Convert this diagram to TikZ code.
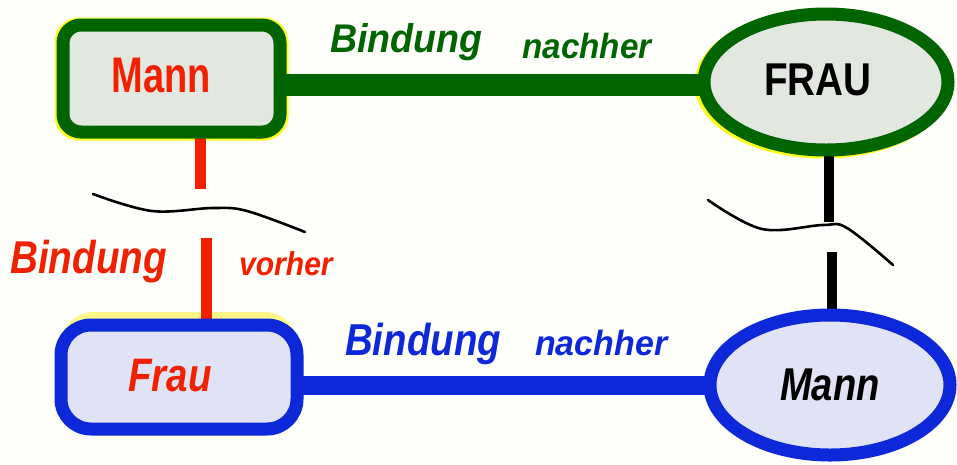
\documentclass[tikz,border=0pt]{standalone}
\usepackage{fontspec}
\setmainfont{Liberation Sans}
\usetikzlibrary{shapes.geometric}
\pgfdeclarelayer{back}
\pgfsetlayers{back,main}
\definecolor{gr}{HTML}{006400}
\definecolor{rd}{HTML}{F02000}
\definecolor{bl}{HTML}{0C28D8}
\definecolor{grfill}{HTML}{E2E8E0}
\definecolor{blfill}{HTML}{E0E3F6}
\definecolor{yl}{HTML}{FFFF20}
\definecolor{ylpale}{HTML}{FFF68A}
\definecolor{bgc}{HTML}{FEFEFA}
\newcommand\cnd[2]{\scalebox{#1}[1]{#2}}
\begin{document}
\begin{tikzpicture}[x=1pt,y=-1pt,
  box/.style={rectangle, line width=13pt, inner sep=0pt},
  oval/.style={ellipse, line width=13pt, inner sep=0pt},
  lbl/.style={inner sep=0pt, anchor=base west},
  bigbold/.style={font=\fontsize{#1}{#1}\selectfont\bfseries},
  bigbi/.style={font=\fontsize{#1}{#1}\selectfont\bfseries\itshape}]
\useasboundingbox (0,0) rectangle (957,464);

% nodes
\node[box, draw=gr, fill=grfill, rounded corners=18pt, minimum width=217pt,
      minimum height=107pt, bigbold=50, text=rd] (mann1) at (171.5,78.5)
      {\raisebox{7pt}{\cnd{0.76}{Mann}}\kern21pt};
\node[oval, draw=gr, fill=grfill, minimum width=244pt, minimum height=136pt,
      bigbold=46, text=black] (frau1) at (826,82)
      {\raisebox{4pt}{\cnd{0.84}{FRAU}}\kern16pt};
\node[box, draw=bl, fill=blfill, rounded corners=30pt, minimum width=236pt,
      minimum height=104pt, bigbi=47, text=rd] (frau2) at (179,377)
      {\raisebox{4pt}{\cnd{0.82}{Frau}}\kern18pt};
\node[oval, draw=bl, fill=blfill, minimum width=240pt, minimum height=140pt,
      bigbi=46, text=black] (mann2) at (830,385)
      {\cnd{0.83}{Mann}};

% labels
\node[lbl, bigbi=40, text=gr] (t1) at (330,52) {\cnd{0.94}{Bindung}};
\node[lbl, bigbi=35, text=gr] (t2) at (522,58) {\cnd{0.95}{nachher}};
\node[lbl, bigbi=46, text=rd] (t3) at (10,273) {\cnd{0.84}{Bindung}};
\node[lbl, bigbi=33, text=rd] (t4) at (239,275) {\cnd{0.91}{vorher}};
\node[lbl, bigbi=44.7, text=bl] (t5) at (345,355) {\cnd{0.86}{Bindung}};
\node[lbl, bigbi=35, text=bl] (t6) at (535,355) {\cnd{0.97}{nachher}};

% break marks
\draw[black, line width=2.6pt, line cap=round]
  plot[smooth, tension=0.6] coordinates {(93,194) (152,211) (213,208) (247,211) (305,232)};
\draw[black, line width=2.6pt, line cap=round]
  plot[smooth, tension=0.6] coordinates {(708,200) (762,229) (823,225) (847,228) (893,265)};

\coordinate (gy) at (826,85);
\coordinate (r1) at (200,189);
\coordinate (r2) at (206,238);
\coordinate (b1) at (829,222);
\coordinate (b2) at (832,252);

\begin{pgfonlayer}{back}
  \fill[bgc] (0,0) rectangle (957,464);
  \draw[yl, line width=13pt, rounded corners=18pt] (61,24) rectangle (282,134);
  \draw[yl, line width=13pt] (823,84) ellipse [x radius=122pt, y radius=68pt];
  \fill[ylpale, rounded corners=34pt] (60,312) rectangle (298,400);
  % connectors
  \draw[gr, line width=22pt] (mann1.center |- gy) -- (gy);
  \draw[bl, line width=19pt] (frau2.center |- mann2.center) -- (mann2.center);
  \draw[rd, line width=11pt] (mann1.center -| r1) -- (r1);
  \draw[rd, line width=11pt] (r2) -- (r2 |- frau2.center);
  \draw[black, line width=10pt] (frau1.center -| b1) -- (b1);
  \draw[black, line width=10pt] (b2) -- (b2 |- mann2.center);
\end{pgfonlayer}
\end{tikzpicture}
\end{document}
